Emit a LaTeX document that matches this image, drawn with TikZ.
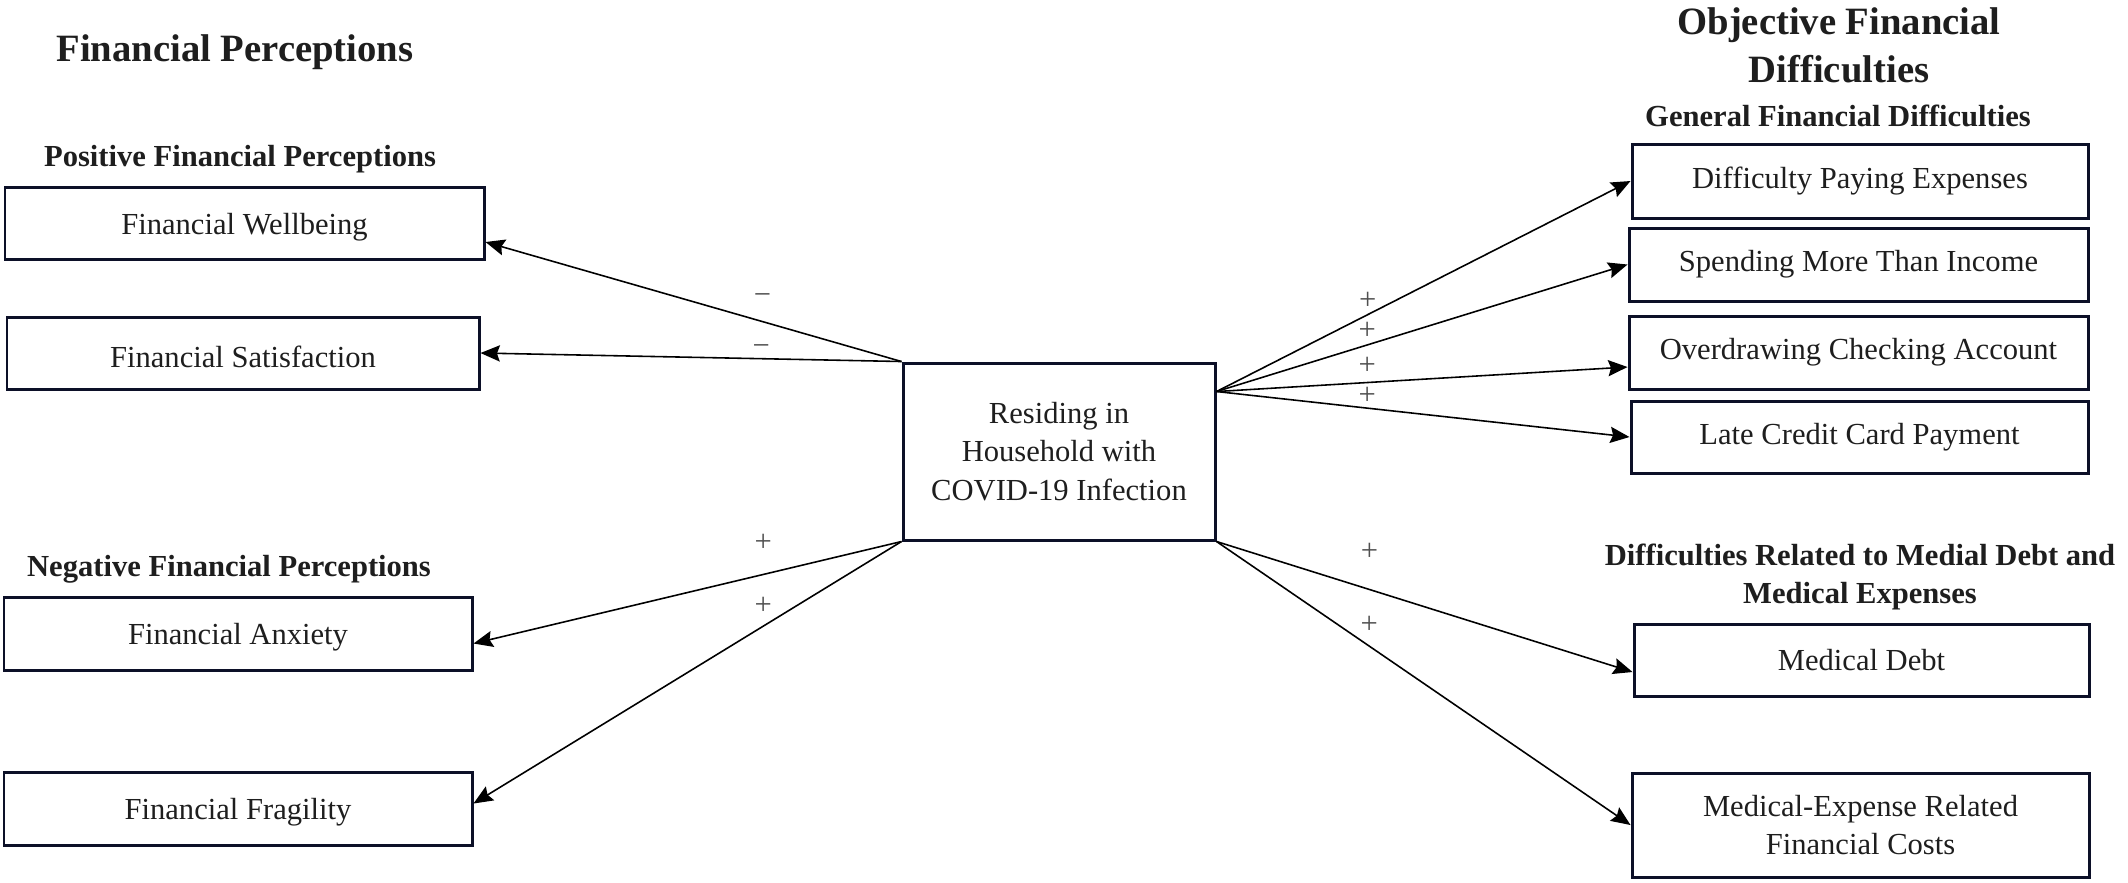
\documentclass[tikz,border=0pt]{standalone}
\usepackage{fontspec}
\setmainfont{Liberation Serif}
\usetikzlibrary{arrows.meta}
\definecolor{boxline}{RGB}{12,16,40}
\definecolor{ink}{RGB}{30,30,30}
\definecolor{signink}{RGB}{80,80,80}

\begin{document}
\begin{tikzpicture}
            \tikzstyle{box} = [draw=boxline, line width=0.85pt, inner sep=0pt, align=center, text=ink, font=\fontsize{8.7}{11}\selectfont]
            \tikzstyle{leftbox} = [box, text height=0.29cm]
            \tikzstyle{head} = [text=ink, align=center, inner sep=0pt, font=\bfseries\fontsize{8.7}{10.9}\selectfont]
            \tikzstyle{title} = [text=ink, align=center, inner sep=0pt, font=\bfseries\fontsize{11}{13.7}\selectfont]
            \tikzstyle{arrow} = [line width=0.45pt, ->, >={Stealth[length=5.5pt,width=4.6pt,inset=0.8pt]}]
            \tikzstyle{sign} = [text=signink, anchor=base, inner sep=0pt, font=\fontsize{8.7}{11}\selectfont]
            \useasboundingbox (0,0) rectangle (21.28,-8.82);

            \node[title] (percept) at (2.35,-0.52) {Financial Perceptions};
            \node[head] (positive) at (2.40,-1.59) {Positive Financial Perceptions};
            \node[head] (negative) at (2.29,-5.69) {Negative Financial Perceptions};
            \node[title, anchor=north] (objective) at (18.39,-0.07) {Objective Financial\\Difficulties};
            \node[head] (general) at (18.38,-1.155) {General Financial Difficulties};
            \node[head, anchor=north] (medical) at (18.60,-5.43) {Difficulties Related to Medial Debt and\\Medical Expenses};

            \node[leftbox, minimum width=4.79cm, minimum height=0.72cm] (wellbeing) at (2.445,-2.23) {Financial Wellbeing};
            \node[leftbox, minimum width=4.72cm, minimum height=0.72cm] (satisfaction) at (2.43,-3.53) {Financial Satisfaction};
            \node[leftbox, minimum width=4.68cm, minimum height=0.73cm] (anxiety) at (2.38,-6.335) {Financial Anxiety};
            \node[leftbox, minimum width=4.68cm, minimum height=0.73cm] (fragility) at (2.38,-8.085) {Financial Fragility};
            \node[box, minimum width=3.12cm, minimum height=1.77cm] (covid) at (10.59,-4.515) {Residing in\\Household with\\COVID-19 Infection};
            \node[box, minimum width=4.56cm, minimum height=0.74cm] (paying) at (18.60,-1.81) {Difficulty Paying Expenses};
            \node[box, minimum width=4.59cm, minimum height=0.73cm] (spending) at (18.585,-2.645) {Spending More Than Income};
            \node[box, minimum width=4.59cm, minimum height=0.73cm] (overdraw) at (18.585,-3.525) {Overdrawing Checking Account};
            \node[box, minimum width=4.57cm, minimum height=0.72cm] (latecard) at (18.595,-4.37) {Late Credit Card Payment};
            \node[box, minimum width=4.55cm, minimum height=0.72cm] (meddebt) at (18.615,-6.60) {Medical Debt};
            \node[box, minimum width=4.57cm, minimum height=1.04cm] (medcost) at (18.605,-8.25) {Medical-Expense Related\\Financial Costs};

            \coordinate (out) at ([yshift=-0.30cm]covid.north east);

            \draw[arrow] (covid.north west) -- node[sign, pos=0.334, yshift=0.17cm] {−} ([yshift=-0.19cm]wellbeing.east);
            \draw[arrow] (covid.north west) -- node[sign, pos=0.333, yshift=0.03cm] {−} (satisfaction.east);
            \draw[arrow] (covid.south west) -- node[sign, pos=0.323, yshift=0.23cm] {+} ([yshift=-0.10cm]anxiety.east);
            \draw[arrow] (covid.south west) -- node[sign, pos=0.323, yshift=0.12cm] {+} ([yshift=0.05cm]fragility.east);
            \draw[arrow] (out) -- node[sign, pos=0.365, yshift=0.05cm] {+} (paying.west);
            \draw[arrow] (out) -- node[sign, pos=0.367, yshift=0.05cm] {+} (spending.west);
            \draw[arrow] (out) -- node[sign, pos=0.367, yshift=0.08cm] {+} ([yshift=-0.145cm]overdraw.west);
            \draw[arrow] (out) -- node[sign, pos=0.365, yshift=0.04cm] {+} (latecard.west);
            \draw[arrow] (covid.south east) -- node[sign, pos=0.368, yshift=0.29cm] {+} ([yshift=-0.12cm]meddebt.west);
            \draw[arrow] (covid.south east) -- node[sign, pos=0.369, yshift=0.13cm] {+} (medcost.west);
        \end{tikzpicture}
\end{document}
